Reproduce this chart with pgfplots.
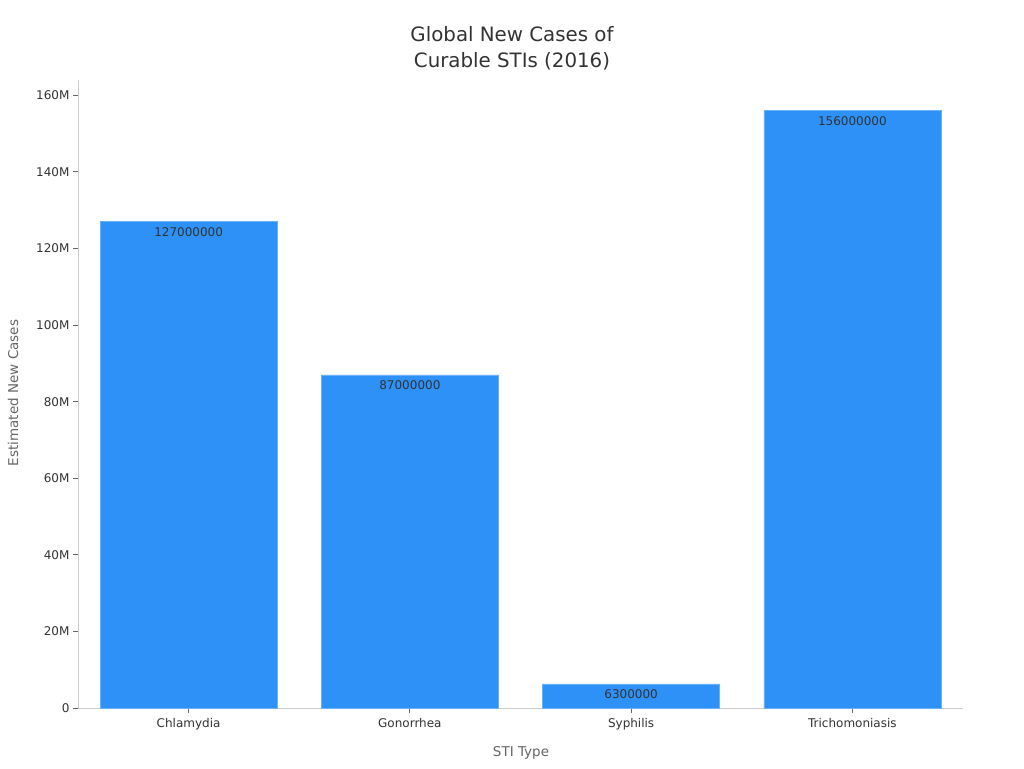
\documentclass[border=0pt]{standalone}
\usepackage{pgfplots}
\pgfplotsset{compat=1.18}
\usepackage{pgfplotstable}
\usepackage{fontspec}
\setmainfont{DejaVu Sans}
\definecolor{barblue}{HTML}{2E91F8}
\definecolor{baredge}{HTML}{6AB2F8}
\definecolor{axgray}{HTML}{CCCCCC}
\definecolor{txt}{HTML}{333333}
\definecolor{lbl}{HTML}{666666}
\pgfplotstableread{
x y lab
0 127000000 127000000
1 87000000 87000000
2 6300000 6300000
3 156000000 156000000
}\datatab
\begin{document}
\begin{tikzpicture}[x=1pt,y=1pt]
\useasboundingbox (0,0) rectangle (1024,768);
\begin{axis}[
  at={(78pt,60pt)}, anchor=south west,
  scale only axis, width=885pt, height=628pt,
  xmin=-0.5, xmax=3.5, ymin=0, ymax=164000000,
  axis lines*=left,
  axis line style={axgray},
  ybar, bar width=0.8,
  xtick=data,
  xticklabels={Chlamydia,Gonorrhea,Syphilis,Trichomoniasis},
  ytick={0,20000000,40000000,60000000,80000000,100000000,120000000,140000000,160000000},
  yticklabels={0,20M,40M,60M,80M,100M,120M,140M,160M},
  scaled y ticks=false,
  tick style={lbl, line width=0.8pt},
  major tick length=5pt,
  tick align=outside,
  ticklabel style={font=\fontsize{12}{14}\selectfont, text=txt},
  /pgf/number format/assume math mode=true,
  xticklabel style={yshift=-2pt},
  nodes near coords,
  point meta=explicit symbolic,
  every node near coord/.append style={anchor=north, yshift=-2pt, font=\fontsize{12}{14}\selectfont, text=txt},
  clip=false,
]
\addplot[fill=barblue, draw=baredge, line width=0.6pt, bar shift=0pt] table[x=x,y=y,meta=lab]{\datatab};
\end{axis}
\node[align=center, text=txt, font=\fontsize{19.8}{26}\selectfont] at (512,720) {Global New Cases of\\Curable STIs (2016)};
\node[text=lbl, font=\fontsize{13.5}{16}\selectfont] at (521,15) {STI Type};
\node[text=lbl, font=\fontsize{13.5}{16}\selectfont, rotate=90] at (13,375) {Estimated New Cases};
\end{tikzpicture}
\end{document}
